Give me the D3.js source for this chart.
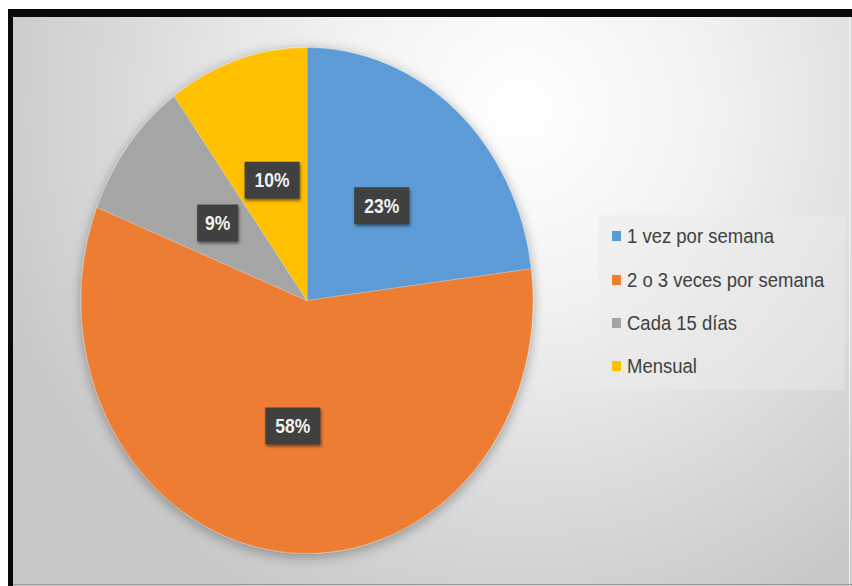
<!DOCTYPE html>
<html>
<head>
<meta charset="utf-8">
<script src="https://cdn.jsdelivr.net/npm/d3@7"></script>
<style>
  html, body { margin: 0; padding: 0; background: #ffffff; }
  svg { display: block; }
</style>
</head>
<body>
<svg id="chart" width="852" height="586"></svg>
<script>
// Frequency categories and their shares (percent)
const categories = ["1 vez por semana", "2 o 3 veces por semana", "Cada 15 días", "Mensual"];
const values = [23, 58, 9, 10];
const colors = ["#5b9bd5", "#ed7d31", "#a5a5a5", "#ffc000"];

const W = 852, H = 586;
const svg = d3.select("#chart");
const defs = svg.append("defs");

// Radial background: bright near the upper middle, grey towards the edges
const bg = defs.append("radialGradient")
  .attr("id", "bgGrad")
  .attr("gradientUnits", "userSpaceOnUse")
  .attr("cx", 520).attr("cy", 110).attr("r", 560);
bg.append("stop").attr("offset", "0%").attr("stop-color", "#ffffff");
bg.append("stop").attr("offset", "35%").attr("stop-color", "#f2f2f2");
bg.append("stop").attr("offset", "100%").attr("stop-color", "#c7c7c7");

const shadow = defs.append("filter").attr("id", "pieShadow")
  .attr("x", "-20%").attr("y", "-20%").attr("width", "140%").attr("height", "140%");
shadow.append("feGaussianBlur").attr("in", "SourceAlpha").attr("stdDeviation", 6).attr("result", "b");
shadow.append("feOffset").attr("in", "b").attr("dx", 0).attr("dy", 3).attr("result", "o");
shadow.append("feComponentTransfer").attr("in", "o").attr("result", "s")
  .append("feFuncA").attr("type", "linear").attr("slope", 0.35);
const sm = shadow.append("feMerge");
sm.append("feMergeNode").attr("in", "s");
sm.append("feMergeNode").attr("in", "SourceGraphic");

const boxShadow = defs.append("filter").attr("id", "boxShadow")
  .attr("x", "-30%").attr("y", "-30%").attr("width", "160%").attr("height", "160%");
boxShadow.append("feGaussianBlur").attr("in", "SourceAlpha").attr("stdDeviation", 1.5).attr("result", "b");
boxShadow.append("feOffset").attr("in", "b").attr("dx", 1).attr("dy", 2).attr("result", "o");
boxShadow.append("feComponentTransfer").attr("in", "o").attr("result", "s")
  .append("feFuncA").attr("type", "linear").attr("slope", 0.5);
const bm = boxShadow.append("feMerge");
bm.append("feMergeNode").attr("in", "s");
bm.append("feMergeNode").attr("in", "SourceGraphic");

// Chart area background and frame
svg.append("rect").attr("x", 10).attr("y", 13).attr("width", W - 10).attr("height", H - 13)
  .attr("fill", "url(#bgGrad)");
svg.append("rect").attr("x", 8).attr("y", 9).attr("width", W - 8).attr("height", 8).attr("fill", "#0a0a0a");
svg.append("rect").attr("x", 8).attr("y", 9).attr("width", 5).attr("height", H - 9).attr("fill", "#0a0a0a");
svg.append("line").attr("x1", 849.5).attr("x2", 849.5).attr("y1", 17).attr("y2", H)
  .attr("stroke", "#f2f2f2").attr("stroke-width", 1);
svg.append("line").attr("x1", 13).attr("x2", W).attr("y1", 584.5).attr("y2", 584.5)
  .attr("stroke", "#9a9a9a").attr("stroke-width", 1);

// Everything is laid out with a slight vertical stretch
const sy = 1.119;
const root = svg.append("g").attr("transform", `scale(1, ${sy})`);

const cx = 307, cy = 300.5 / sy, R = 226;

const pie = d3.pie().sort(null).value(d => d.value).startAngle(0).endAngle(2 * Math.PI);
const data = pie(categories.map((c, i) => ({ name: c, value: values[i], color: colors[i] })));
const arc = d3.arc().innerRadius(0).outerRadius(R);
const labelArc = d3.arc().innerRadius(R * 0.5).outerRadius(R * 0.5);

const pg = root.append("g").attr("transform", `translate(${cx},${cy})`);
pg.append("g").attr("filter", "url(#pieShadow)")
  .selectAll("path").data(data).join("path")
  .attr("d", arc)
  .attr("fill", d => d.data.color)
  .attr("stroke", "#ffffff").attr("stroke-opacity", 0.35).attr("stroke-width", 0.6);

// Data labels in dark boxes
const fmt = d => d3.format(".0f")(d.data.value) + "%";
const lab = pg.selectAll("g.lab").data(data).join("g").attr("class", "lab")
  .attr("transform", d => { const [x, y] = labelArc.centroid(d); return `translate(${x},${y})`; });
lab.append("rect")
  .attr("x", d => d.data.value >= 10 ? -27.5 : -20.5)
  .attr("y", -16.5)
  .attr("width", d => d.data.value >= 10 ? 55 : 41)
  .attr("height", 33)
  .attr("fill", "#404040")
  .attr("filter", "url(#boxShadow)");
lab.append("text")
  .attr("text-anchor", "middle").attr("dy", "0.36em")
  .attr("font-family", "'Liberation Sans', Arial, sans-serif")
  .attr("font-weight", "bold").attr("font-size", 17.5)
  .attr("fill", "#f2f2f2")
  .text(fmt);

// Legend
const lg = root.append("g");
lg.append("rect").attr("x", 599).attr("y", 215 / sy).attr("width", 246).attr("height", 175 / sy)
  .attr("fill", "#ececec").attr("fill-opacity", 0.45);
const rowY = [236, 280, 323, 366].map(v => v / sy);
const items = lg.selectAll("g.item").data(categories).join("g").attr("class", "item")
  .attr("transform", (d, i) => `translate(612,${rowY[i]})`);
items.append("rect").attr("x", 0).attr("y", -4.5).attr("width", 9).attr("height", 9)
  .attr("fill", (d, i) => colors[i]);
items.append("text")
  .attr("x", 15).attr("dy", "0.35em")
  .attr("font-family", "'Liberation Sans', Arial, sans-serif")
  .attr("font-size", 18.5)
  .attr("fill", "#404040")
  .text(d => d);
</script>
</body>
</html>
